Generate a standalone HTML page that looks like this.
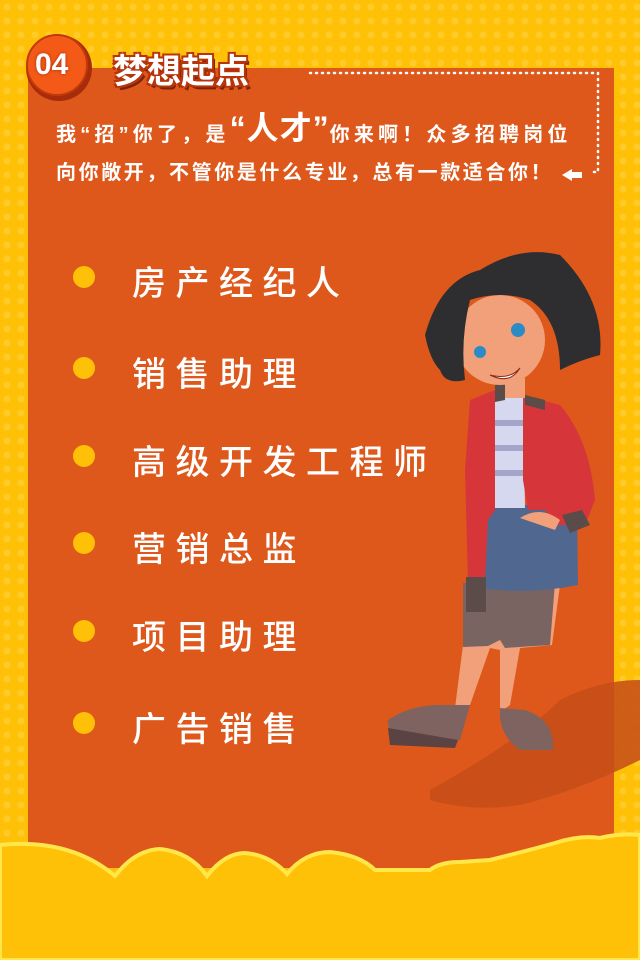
<!DOCTYPE html>
<html><head><meta charset="utf-8"><style>
html,body{margin:0;padding:0;width:640px;height:960px;overflow:hidden;background:#ffc107}
.root{position:relative;width:640px;height:960px;font-family:"Liberation Sans","Noto Sans CJK SC",sans-serif}
.txt{position:absolute;color:#fff;font-weight:bold;white-space:nowrap}
.item{position:absolute;left:132px;color:#fff;font-size:34px;letter-spacing:9.5px;font-family:"Liberation Sans","Noto Sans CJK SC",sans-serif;font-weight:500}
.dot{position:absolute;left:73px;width:22px;height:22px;border-radius:50%;background:#ffc107}
</style></head><body>
<div class="root">
<svg width="640" height="960" style="position:absolute;left:0;top:0">
<defs><pattern id="dots" width="14" height="14" patternUnits="userSpaceOnUse"><circle cx="7" cy="7" r="3.5" fill="#ffcb2a"/></pattern></defs>
<rect width="640" height="960" fill="#ffc107"/>
<rect width="640" height="960" fill="url(#dots)"/>
<rect x="28" y="68" width="586" height="800" fill="#de581c"/>
<path d="M430,790 Q520,740 560,700 Q600,680 640,680 L640,760 Q580,790 520,805 Q470,812 430,800 Z" fill="#c64c18" opacity="0.85"/>
<polyline points="310,73 598,73 598,172 590,172" fill="none" stroke="#fff" stroke-width="2.5" stroke-dasharray="1 5" stroke-linecap="round"/>
<path d="M562,175 l10,-6 v3 h10 v6 h-10 v3 z" fill="#fff"/>
<g>
<path d="M465,585 L560,585 L552,645 L520,648 L510,705 L500,712 L500,650 L490,648 L470,705 L455,708 L463,645 Z" fill="#f2a07a"/>
<path d="M463,583 L555,583 L550,645 L505,648 L500,640 L488,646 L463,647 Z" fill="#7a6462"/>
<path d="M455,705 L470,705 L460,740 L390,745 L388,720 Q410,705 440,705 Z" fill="#7e6361"/>
<path d="M388,728 L458,740 L455,748 L390,745 Z" fill="#5a4342"/>
<path d="M500,708 L525,710 Q555,720 553,750 L520,750 Q498,735 500,708 Z" fill="#7e6361"/>
<path d="M477,505 L577,505 L578,585 Q530,595 478,588 Z" fill="#50688f"/>
<path d="M493,398 L523,398 L525,508 L493,508 Z" fill="#d6d8ef"/>
<path d="M493,420 h32 v6 h-32z M493,445 h32 v6 h-32z M493,470 h32 v6 h-32z" fill="#a3a6c8"/>
<path d="M470,400 L495,390 L495,510 L488,520 L485,580 L468,585 L465,470 Z" fill="#d6363a"/>
<path d="M523,395 L560,405 Q590,440 595,500 L585,525 L555,525 L545,510 L528,510 L523,480 Z" fill="#d6363a"/>
<path d="M466,577 h20 v35 h-20z" fill="#5b4b49"/>
<path d="M562,515 l20,-5 l8,15 l-20,8z" fill="#5b4b49"/>
<path d="M520,518 Q540,505 560,520 L555,530 Z" fill="#f2a07a"/>
<path d="M495,378 L525,378 L525,398 L495,398 Z" fill="#f2a07a"/>
<path d="M495,385 L505,380 L505,400 L495,402Z M525,395 L545,400 L545,410 L525,405Z" fill="#5b4b49"/>
<ellipse cx="500" cy="340" rx="45" ry="45" fill="#f2a07a"/>
<path d="M425,335 Q440,280 480,270 Q520,245 560,255 Q605,300 600,355 Q580,360 560,370 Q560,320 530,300 Q500,290 470,300 Q460,340 465,380 Q445,385 440,370 Q430,360 425,335 Z" fill="#2e2e30"/>
<circle cx="480" cy="352" r="6" fill="#2b8bc5"/><circle cx="518" cy="330" r="7" fill="#2b8bc5"/>
<path d="M490,375 Q510,380 520,368 Q510,385 490,375Z" fill="#fff" stroke="#8a2b1b"/>
</g>
<path d="M0,845 Q70,838 115,876 Q135,850 160,849 Q190,852 207,876 Q225,853 245,853 Q270,855 287,874 Q305,852 330,852 Q360,855 375,870 L430,870 Q440,862 460,862 L490,860 Q530,850 555,843 Q580,835 600,838 Q620,833 640,835 L640,960 L0,960 Z" fill="#ffc107" stroke="#ffe74a" stroke-width="4"/>
<circle cx="59" cy="68" r="33" fill="#a62c0b"/>
<circle cx="57" cy="65" r="30" fill="#f35a17" stroke="#c23a0b" stroke-width="2"/>
</svg>
<div class="txt" style="left:35px;top:48px;font-size:30px;text-shadow:0 0 3px #a62c0b">04</div>
<div class="txt" style="left:113px;top:44px;font-size:34px;text-shadow:2px 2px 0 #b8340b,-2px -2px 0 #b8340b,2px -2px 0 #b8340b,-2px 2px 0 #b8340b,3px 4px 0 #7a2308">梦想起点</div>
<div class="txt" style="left:56px;top:110px;height:40px;line-height:40px;font-size:20px;letter-spacing:4.2px">我“招”你了，是<span style="font-size:32px;position:relative;top:-2px;letter-spacing:1px">“人才”</span>你来啊！众多招聘岗位</div>
<div class="txt" style="left:56px;top:161px;line-height:24px;font-size:20px;letter-spacing:2.6px">向你敞开，不管你是什么专业，总有一款适合你！</div>
<div class="dot" style="top:266px"></div><div class="item" style="top:256px">房产经纪人</div>
<div class="dot" style="top:357px"></div><div class="item" style="top:347px">销售助理</div>
<div class="dot" style="top:445px"></div><div class="item" style="top:435px">高级开发工程师</div>
<div class="dot" style="top:532px"></div><div class="item" style="top:522px">营销总监</div>
<div class="dot" style="top:620px"></div><div class="item" style="top:610px">项目助理</div>
<div class="dot" style="top:712px"></div><div class="item" style="top:702px">广告销售</div>
</div>
</body></html>
